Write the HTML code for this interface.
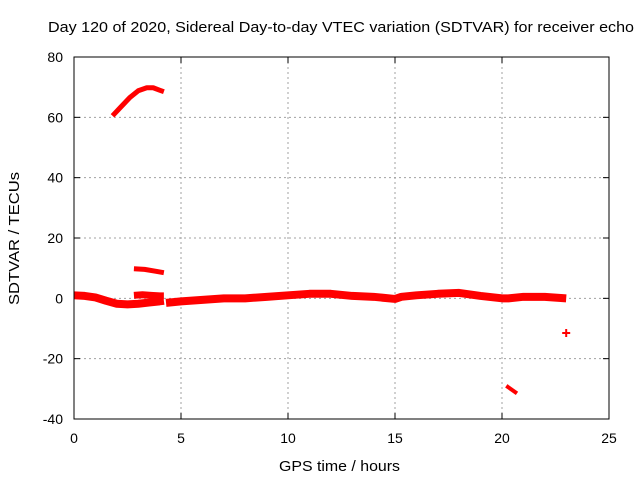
<!DOCTYPE html>
<html><head><meta charset="utf-8"><style>
body{margin:0;background:#fff;}
svg text{font-family:"Liberation Sans",sans-serif;fill:#000;}
</style></head><body>
<svg width="640" height="480" id="c" xmlns="http://www.w3.org/2000/svg">
<text x="48" y="32" font-size="15" textLength="586" lengthAdjust="spacingAndGlyphs">Day 120 of 2020, Sidereal Day-to-day VTEC variation (SDTVAR) for receiver echo</text>
<text x="279" y="471" font-size="15" textLength="121" lengthAdjust="spacingAndGlyphs">GPS time / hours</text>
<text transform="translate(19,305) rotate(-90)" font-size="15" textLength="133" lengthAdjust="spacingAndGlyphs">SDTVAR / TECUs</text>
<g id="grid"></g><g id="ticks"></g><g id="data"></g>
<rect x="74" y="57" width="535" height="362" fill="none" stroke="#000" stroke-width="1"/>
</svg>
<script>
const xTicks=[0,5,10,15,20,25];
const yTicks=[-40,-20,0,20,40,60,80];
const mainBandX=[0,0.5,1,1.5,2,2.5,3,3.5,4,4.2];
const mainBandY=[1,0.8,0.3,-0.8,-1.8,-2,-1.8,-1.4,-1,-0.8];
const band2X=[4.3,5,6,7,8,9,10,11,12,13,14,15,15.3,16,17,18,19,20,20.3,21,22,23];
const band2Y=[-1.5,-1,-0.5,0,0,0.5,1,1.5,1.5,0.8,0.5,-0.2,0.5,1,1.5,1.8,0.8,0,0,0.5,0.5,0];
const sideBandX=[2.8,3.2,3.6,4.0,4.2];
const sideBandY=[1,1.2,1,0.8,0.8];
const arcX=[1.8,2.2,2.6,3.0,3.4,3.7,4.0,4.2];
const arcY=[60.5,63.5,66.5,68.8,69.8,69.8,69,68.5];
const seg1X=[2.8,3.3,3.8,4.2];
const seg1Y=[9.8,9.6,9,8.5];
const seg2X=[20.2,20.5,20.7];
const seg2Y=[-29,-30.5,-31.5];
const ptX=[23];
const ptY=[-11.5];
const X=v=>74+v*535/25, Y=v=>419-(v+40)*362/120;
const NS="http://www.w3.org/2000/svg";
const g=document.getElementById('grid'),t=document.getElementById('ticks'),d=document.getElementById('data');
function mk(tag,a,p){const e=document.createElementNS(NS,tag);for(const k in a)e.setAttribute(k,a[k]);p.appendChild(e);return e;}
xTicks.forEach(v=>{
 if(v>0&&v<25){const l=mk('line',{x1:X(v),x2:X(v),y1:57,y2:419,stroke:'#a0a0a0','stroke-dasharray':'2,3'},g);
 
 }
 mk('line',{x1:X(v),x2:X(v),y1:419,y2:413,stroke:'#000'},t);
 mk('line',{x1:X(v),x2:X(v),y1:57,y2:63,stroke:'#000'},t);
 const tx=mk('text',{x:X(v),y:443,'font-size':14,'text-anchor':'middle'},t);tx.textContent=v;
 
 
});
yTicks.forEach(v=>{
 if(v>-40&&v<80){const l=mk('line',{x1:74,x2:609,y1:Y(v),y2:Y(v),stroke:'#a0a0a0','stroke-dasharray':'2,3'},g);
 
 }
 mk('line',{x1:74,x2:80,y1:Y(v),y2:Y(v),stroke:'#000'},t);
 mk('line',{x1:609,x2:603,y1:Y(v),y2:Y(v),stroke:'#000'},t);
 const tx=mk('text',{x:63,y:Y(v)+5,'font-size':14,'text-anchor':'end'},t);tx.textContent=v;
 
 
});
function series(xs,ys,w,name){
 const p=mk('polyline',{points:xs.map((x,i)=>X(x)+','+Y(ys[i])).join(' '),fill:'none',stroke:'#f00','stroke-width':w,'stroke-linejoin':'round'},d);
 
 
}
series(mainBandX,mainBandY,8,'main-band-early');
series(band2X,band2Y,8,'main-band');
series(sideBandX,sideBandY,7,'side-band');
series(arcX,arcY,5,'upper-arc');
series(seg1X,seg1Y,5,'segment-10');
series(seg2X,seg2Y,4,'segment-minus-30');
ptX.forEach((x,i)=>{
 const p=mk('path',{d:`M${X(x)-4},${Y(ptY[i])}h8M${X(x)},${Y(ptY[i])-4}v8`,stroke:'#f00','stroke-width':2},d);
 
 
});
</script>
</body></html>
